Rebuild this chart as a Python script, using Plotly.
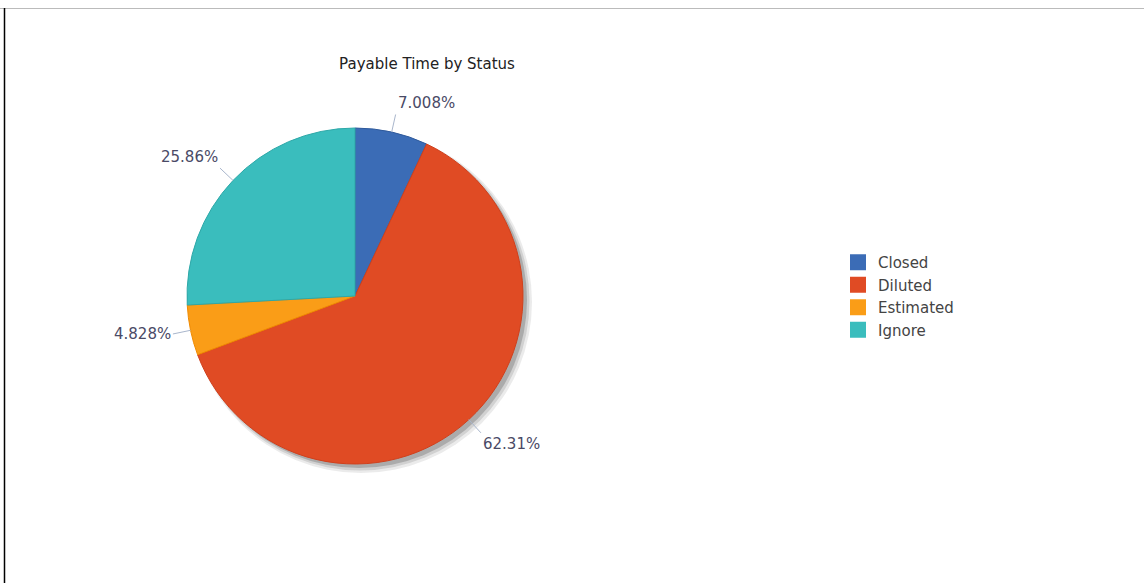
import math
import plotly.graph_objects as go

# ---- data ----
labels = ["Closed", "Diluted", "Estimated", "Ignore"]
values = [7.008, 62.31, 4.828, 25.86]
colors = ["#3B6CB6", "#E04B24", "#FA9D17", "#3ABDBD"]
edge_colors = ["#2F5A9C", "#D0401C", "#F08A00", "#2EA8A8"]
title_text = "Payable Time by Status"
pct_text = [f"{v}%" for v in values]

W, H = 1144, 583
cx, cy, r = 355, 296, 168  # pie placement in pixels
lead = 18                   # leader-line length in pixels

fig = go.Figure()

fig.add_trace(go.Pie(
    labels=labels,
    values=values,
    textinfo="none",
    sort=False,
    direction="clockwise",
    rotation=0,
    marker=dict(colors=colors, line=dict(color=edge_colors, width=1)),
    domain=dict(x=[(cx - r) / W, (cx + r) / W], y=[1 - (cy + r) / H, 1 - (cy - r) / H]),
    hoverinfo="label+text",
    hovertext=pct_text,
    showlegend=False,
))

# legend entries (square swatches)
for lab, col in zip(labels, colors):
    fig.add_trace(go.Scatter(
        x=[None], y=[None], mode="markers", name=lab,
        marker=dict(symbol="square", size=16, color=col, line=dict(width=0)),
        showlegend=True, hoverinfo="skip",
    ))

# outside labels with leader lines, placed at each slice's mid-angle
total = sum(values)
annotations = []
cum = 0.0
for v, t in zip(values, pct_text):
    mid = (cum + v / 2) / total * 2 * math.pi
    cum += v
    s, c = math.sin(mid), math.cos(mid)
    px, py = cx + r * s, cy - r * c
    xa = "left" if s > 0 else "right"
    if abs(c) < 0.35:
        ya = "middle"
    else:
        ya = "bottom" if c > 0 else "top"
    annotations.append(dict(
        x=px / W, y=1 - py / H, xref="paper", yref="paper",
        ax=lead * s, ay=-lead * c, axref="pixel", ayref="pixel",
        text=t, showarrow=True, arrowhead=0, arrowwidth=1, arrowcolor="#A9B6CC",
        xanchor=xa, yanchor=ya,
        font=dict(family="DejaVu Sans", size=15, color="#4A4A66"),
    ))

# soft drop shadow behind the pie
shapes = []
for off, grow, op in [(6, 3, 0.10), (5, 1.5, 0.15), (4, 0, 0.25)]:
    shapes.append(dict(
        type="circle", xref="paper", yref="paper", layer="below",
        x0=(cx - r + off - grow) / W, x1=(cx + r + off + grow) / W,
        y0=1 - (cy + r + off + grow) / H, y1=1 - (cy - r + off - grow) / H,
        fillcolor=f"rgba(60,60,60,{op})", line=dict(width=0),
    ))
# frame lines
shapes.append(dict(type="line", xref="paper", yref="paper", x0=0, x1=1,
                   y0=1 - 8.5 / H, y1=1 - 8.5 / H, line=dict(color="#BBBBBB", width=1)))
shapes.append(dict(type="line", xref="paper", yref="paper", x0=4.5 / W, x1=4.5 / W,
                   y0=0, y1=1 - 8 / H, line=dict(color="#000000", width=1.5)))

fig.update_layout(
    width=W, height=H,
    margin=dict(l=0, r=0, t=0, b=0),
    paper_bgcolor="white", plot_bgcolor="white",
    xaxis=dict(visible=False), yaxis=dict(visible=False),
    title=dict(text=title_text, x=427 / W, xanchor="center", y=1 - 64 / H, yanchor="middle",
               font=dict(family="DejaVu Sans", size=15, color="#222222")),
    legend=dict(x=838 / W, y=1 - 246 / H, xanchor="left", yanchor="top",
                font=dict(family="DejaVu Sans", size=15, color="#444444"),
                itemwidth=30, tracegroupgap=0, itemsizing="trace"),
    annotations=annotations,
    shapes=shapes,
)

fig.write_html("out.html", config={"displayModeBar": False},
               post_script="document.body.style.margin='0px';")
